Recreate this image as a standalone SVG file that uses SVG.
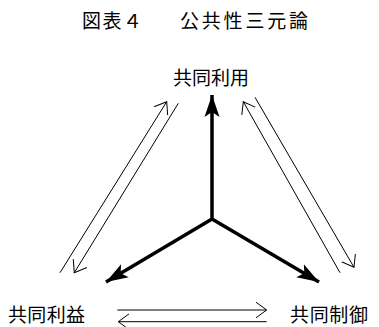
<svg xmlns="http://www.w3.org/2000/svg" width="379" height="327" viewBox="0 0 379 327">
<style>
.t{font-family:"Noto Sans CJK JP","Noto Sans CJK SC",sans-serif;fill:#000}
.title{font-size:19px}
.lbl{font-size:19px}
.thin{stroke:#000;stroke-width:1;fill:none;marker-end:url(#open)}
.thick{stroke:#000;stroke-width:3.5;fill:none;marker-end:url(#solid)}
</style>
<defs>
<marker id="open" markerUnits="userSpaceOnUse" markerWidth="14" markerHeight="20" refX="11" refY="8" orient="auto" viewBox="0 0 14 16">
<path d="M0,0 L11,8 L0,16" fill="none" stroke="#000" stroke-width="1"/>
</marker>
<marker id="solid" markerUnits="userSpaceOnUse" markerWidth="23" markerHeight="16" refX="22" refY="7.5" orient="auto" viewBox="0 0 23 15">
<path d="M0,0 L22,7.5 L0,15 L5,7.5 Z" fill="#000"/>
</marker>
</defs>
<g id="title"><text class="t title" x="82" y="28" textLength="60" lengthAdjust="spacing">図表４</text><text class="t title" x="180" y="28" textLength="128" lengthAdjust="spacing">公共性三元論</text></g>
<g id="node-use"><text class="t lbl" x="211" y="85" text-anchor="middle">共同利用</text></g>
<g id="node-interest"><text class="t lbl" x="8" y="322" textLength="77" lengthAdjust="spacing">共同利益</text></g>
<g id="node-control"><text class="t lbl" x="290" y="322" textLength="78" lengthAdjust="spacing">共同制御</text></g>
<g id="connectors">
<line class="thick" x1="212" y1="219" x2="212" y2="95"/>
<line class="thick" x1="212" y1="219" x2="106" y2="282"/>
<line class="thick" x1="212" y1="219" x2="319" y2="282"/>
<line class="thin" x1="60" y1="272.7" x2="166.7" y2="101.7"/>
<line class="thin" x1="178.3" y1="103.3" x2="74.3" y2="272.7"/>
<line class="thin" x1="340" y1="272.7" x2="243.3" y2="101.7"/>
<line class="thin" x1="255" y1="97.3" x2="354" y2="267.3"/>
<line class="thin" x1="117.3" y1="310" x2="266.7" y2="310"/>
<line class="thin" x1="266.7" y1="321.7" x2="118.3" y2="321.7"/>
</g>
</svg>
